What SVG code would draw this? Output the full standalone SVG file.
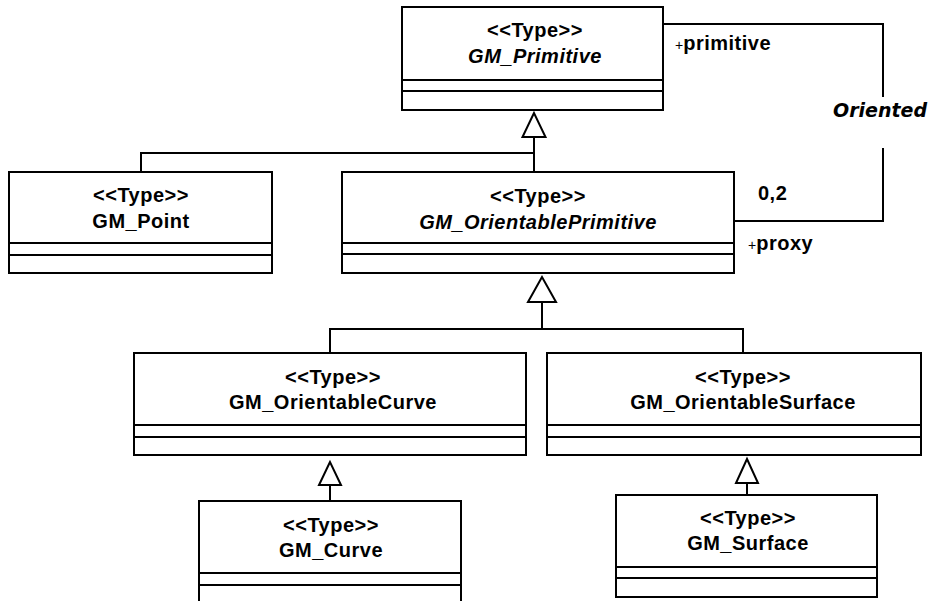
<svg xmlns="http://www.w3.org/2000/svg" width="929" height="601" viewBox="0 0 929 601">
<style>
.box{fill:#fff;stroke:#000;stroke-width:2}
.sep{stroke:#000;stroke-width:2}
.ln{fill:none;stroke:#000;stroke-width:2}
.tri{fill:#fff;stroke:#000;stroke-width:2}
text{font-family:"Liberation Sans",Arial,sans-serif;font-size:20px;font-weight:bold;letter-spacing:0.5px;fill:#000}
.c{text-anchor:middle}
.i{font-style:italic}
.plus{font-weight:normal;font-size:14px;letter-spacing:0}
.or{font-family:"DejaVu Sans",Verdana,sans-serif;font-size:19px;font-style:italic;letter-spacing:0}
</style>
<rect width="929" height="601" fill="#fff"/>
<g id="connectors">
<polyline class="ln" points="663,24 883,24 883,97"/>
<polyline class="ln" points="883,148 883,221 734,221"/>
<polyline class="ln" points="141,172 141,153 534,153"/>
<line class="ln" x1="534" y1="137" x2="534" y2="172"/>
<polygon class="tri" points="534,113 522.5,137 545.5,137"/>
<polyline class="ln" points="330,353 330,329 743,329 743,353"/>
<line class="ln" x1="542" y1="302" x2="542" y2="329"/>
<polygon class="tri" points="542,277 528,302 556,302"/>
<line class="ln" x1="330" y1="485" x2="330" y2="501"/>
<polygon class="tri" points="330,462 319,485 341,485"/>
<line class="ln" x1="747" y1="483" x2="747" y2="495"/>
<polygon class="tri" points="747,459 736,483 758,483"/>
<text x="675" y="50"><tspan class="plus">+</tspan>primitive</text>
<text class="or" x="833" y="117">Oriented</text>
<text x="758" y="200">0,2</text>
<text x="748" y="250"><tspan class="plus">+</tspan>proxy</text>
</g>
<g id="GM_Primitive">
<rect class="box" x="402" y="7" width="261" height="103"/>
<line class="sep" x1="402" y1="80" x2="663" y2="80"/>
<line class="sep" x1="402" y1="91" x2="663" y2="91"/>
<text class="c" x="535" y="37">&lt;&lt;Type&gt;&gt;</text>
<text class="c i" x="535" y="63">GM_Primitive</text>
</g>
<g id="GM_Point">
<rect class="box" x="9" y="172" width="263" height="101"/>
<line class="sep" x1="9" y1="243" x2="272" y2="243"/>
<line class="sep" x1="9" y1="255" x2="272" y2="255"/>
<text class="c" x="141" y="202">&lt;&lt;Type&gt;&gt;</text>
<text class="c" x="141" y="228">GM_Point</text>
</g>
<g id="GM_OrientablePrimitive">
<rect class="box" x="342" y="172" width="392" height="101"/>
<line class="sep" x1="342" y1="243" x2="734" y2="243"/>
<line class="sep" x1="342" y1="254" x2="734" y2="254"/>
<text class="c" x="538" y="203">&lt;&lt;Type&gt;&gt;</text>
<text class="c i" x="538" y="229">GM_OrientablePrimitive</text>
</g>
<g id="GM_OrientableCurve">
<rect class="box" x="134" y="353" width="392" height="102"/>
<line class="sep" x1="134" y1="425" x2="526" y2="425"/>
<line class="sep" x1="134" y1="437" x2="526" y2="437"/>
<text class="c" x="333" y="384">&lt;&lt;Type&gt;&gt;</text>
<text class="c" x="333" y="409">GM_OrientableCurve</text>
</g>
<g id="GM_OrientableSurface">
<rect class="box" x="547" y="353" width="374" height="102"/>
<line class="sep" x1="547" y1="425" x2="921" y2="425"/>
<line class="sep" x1="547" y1="437" x2="921" y2="437"/>
<text class="c" x="743" y="384">&lt;&lt;Type&gt;&gt;</text>
<text class="c" x="743" y="409">GM_OrientableSurface</text>
</g>
<g id="GM_Curve">
<rect class="box" x="199" y="501" width="262" height="110"/>
<line class="sep" x1="199" y1="573" x2="461" y2="573"/>
<line class="sep" x1="199" y1="585" x2="461" y2="585"/>
<text class="c" x="331" y="532">&lt;&lt;Type&gt;&gt;</text>
<text class="c" x="331" y="557">GM_Curve</text>
</g>
<g id="GM_Surface">
<rect class="box" x="616" y="495" width="261" height="102"/>
<line class="sep" x1="616" y1="567" x2="877" y2="567"/>
<line class="sep" x1="616" y1="578" x2="877" y2="578"/>
<text class="c" x="748" y="525">&lt;&lt;Type&gt;&gt;</text>
<text class="c" x="748" y="550">GM_Surface</text>
</g>
</svg>
